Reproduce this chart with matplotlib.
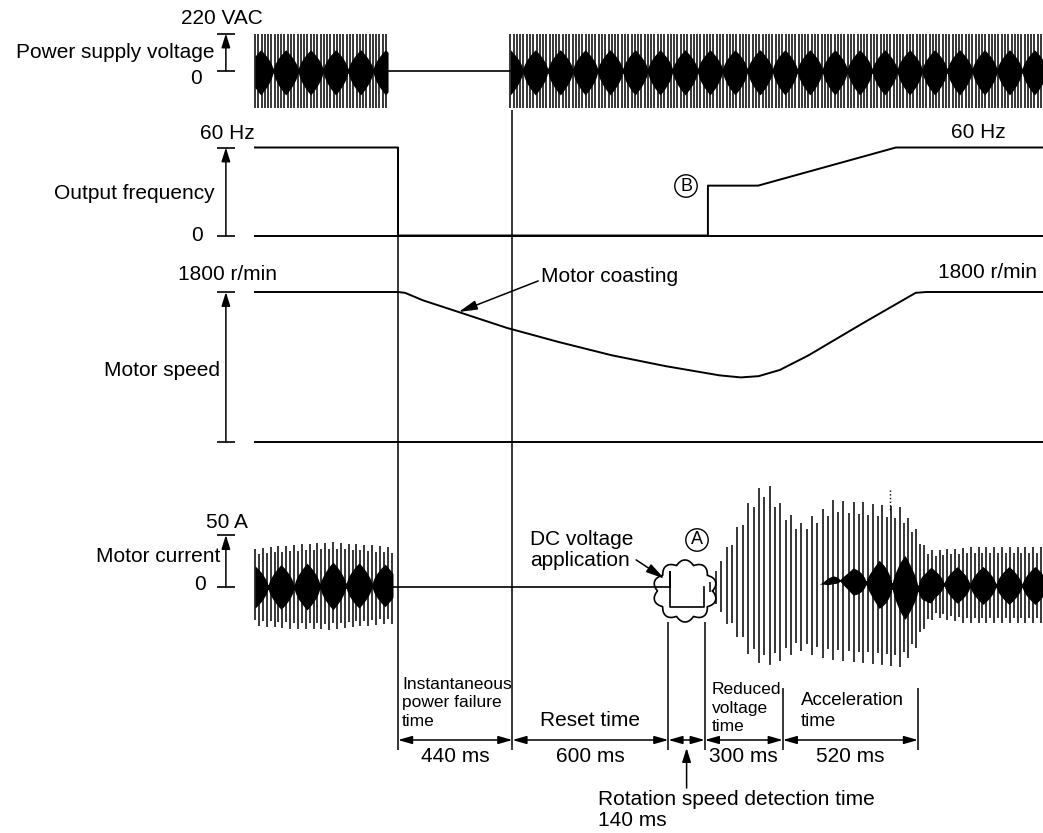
import numpy as np
import matplotlib.pyplot as plt

plt.rcParams['font.family'] = ['Liberation Sans', 'DejaVu Sans']

W, H = 1043, 833

# ---------------- data (time in ms, 0 = start of the power failure) ----------------
interval_ms = [440, 600, 140, 300, 520]
interval_values = ['440 ms', '600 ms', '', '300 ms', '520 ms']
bounds_ms = np.concatenate([[0], np.cumsum(interval_ms)])

supply_vac = 220
supply_off_ms = -38
supply_on_ms = 432

freq_t = [-550, 0, 0, 1192, 1192, 1385, 1915, 2481]
freq_hz = [60, 60, 0, 0, 34, 34, 60, 60]

speed_t = [-550, 0, 27, 96, 233, 418, 618, 823, 1030, 1236, 1318, 1387, 1469,
           1579, 1785, 1991, 2032, 2481]
speed_rpm = [1800, 1800, 1790, 1700, 1560, 1370, 1200, 1040, 910, 800, 775, 790,
             865, 1040, 1420, 1790, 1800, 1800]

# motor current envelopes (A)
cur_pre_t = [-550, -415, -262, -146, -19]
cur_pre_top = [37, 40, 43, 41, 38]
cur_pre_bot = [-37, -40, -41, -38, -35]

cur_post_t = [1180, 1208, 1250, 1288, 1354, 1415, 1481, 1546, 1612, 1673, 1804,
              1931, 1996, 2027, 2065, 2188, 2481]
cur_post_top = [0, 7, 33, 48, 85, 103, 77, 61, 71, 84, 81, 77, 55, 38, 35, 38, 38]
cur_post_bot = [0, -8, -32, -41, -67, -77, -70, -61, -67, -70, -73, -77, -58, -38,
                -29, -35, -35]

# DC voltage application (current between failure and restart)
dc_t = [-19, 1046, 1046, 1046, 1175, 1175]
dc_amp = [0, 0, 14, -19, -19, 0]

# ---------------- layout ----------------
x0_px = 398          # pixel column of t = 0
px_per_ms = 0.26
t_min = -x0_px / px_per_ms
t_max = (W - x0_px) / px_per_ms
trace_start = -550
marker_t = -662

fig = plt.figure(figsize=(W / 100, H / 100), dpi=100)


def channel(top, bottom, zero, px_per_unit):
    a = fig.add_axes([0, 1 - bottom / H, 1, (bottom - top) / H])
    a.set_xlim(t_min, t_max)
    a.set_ylim((zero - bottom) / px_per_unit, (zero - top) / px_per_unit)
    a.axis('off')
    a.patch.set_alpha(0)
    return a


ax_sup = channel(20, 125, 70.5, 37 / 220)
ax_frq = channel(125, 250, 235.5, 88 / 60)
ax_spd = channel(250, 460, 442, 150 / 1800)
ax_cur = channel(460, 700, 587, 52 / 50)

ov = fig.add_axes([0, 0, 1, 1])
ov.set_xlim(t_min, t_max)
ov.set_ylim(H, 0)
ov.axis('off')
ov.patch.set_alpha(0)

lab = fig.add_axes([0, 0, 1, 1])
lab.set_xlim(0, W)
lab.set_ylim(H, 0)
lab.axis('off')
lab.patch.set_alpha(0)

LW = 1.4
FS = 15


def scale_marker(a, full):
    a.hlines([0, full], marker_t - 34, marker_t + 34, color='k', lw=1.2)
    a.annotate('', xy=(marker_t, full), xytext=(marker_t, 0),
               arrowprops=dict(arrowstyle='-|>,head_length=0.7,head_width=0.22',
                               color='k', lw=1.1, mutation_scale=12,
                               shrinkA=0, shrinkB=0))


def stripes(lo, hi, spacing_knots, spacing_ms):
    out = []
    t = lo
    while t < hi:
        out.append(t)
        t += np.interp(t, spacing_knots, spacing_ms)
    return np.array(out)


def diamonds(tt, beat):
    # beat pattern seen as dark diamonds on the oscillogram
    tri = 1 - 2 * np.abs((tt / beat) % 1 - 0.5)
    return np.maximum(tri ** 0.6, 0.12)


# ---- power supply voltage ----
sup_stripe_ms = 12.6
sup_beat_ms = 96
for lo, hi in [(trace_start, supply_off_ms), (supply_on_ms, t_max)]:
    st = np.arange(lo, hi, sup_stripe_ms)
    ax_sup.vlines(st, -supply_vac, supply_vac, color='k', lw=1.1)
    tt = np.arange(lo, hi, 0.25)
    blob = 0.66 * supply_vac * diamonds(tt, sup_beat_ms)
    ax_sup.fill_between(tt, -blob, blob * 0.85, color='k', lw=0)
ax_sup.plot([supply_off_ms, supply_on_ms], [0, 0], color='k', lw=1.2)
scale_marker(ax_sup, supply_vac)

# ---- output frequency ----
ax_frq.plot([trace_start, t_max], [0, 0], color='k', lw=LW)
ax_frq.plot(freq_t, freq_hz, color='k', lw=LW)
scale_marker(ax_frq, 60)

# ---- motor speed ----
ax_spd.plot([trace_start, t_max], [0, 0], color='k', lw=LW)
ax_spd.plot(speed_t, speed_rpm, color='k', lw=LW)
scale_marker(ax_spd, 1800)

# ---- motor current ----
cur_beat_ms = 100


def current_trace(t_knots, top, bot, sp_knots, sp_ms, blob_knots, blob_frac):
    hi = min(t_knots[-1], t_max)
    st = stripes(t_knots[0], hi, sp_knots, sp_ms)
    alt = np.where(np.arange(len(st)) % 2 == 0, 1.0, 0.86)
    ax_cur.vlines(st, np.interp(st, t_knots, bot) * alt[::-1], np.interp(st, t_knots, top) * alt,
                  color='k', lw=1.1)
    tt = np.arange(t_knots[0], hi, 0.25)
    up = np.interp(tt, t_knots, top)
    dn = np.interp(tt, t_knots, bot)
    mid = (up + dn) / 2
    half = (up - dn) / 2
    frac = np.interp(tt, blob_knots, blob_frac)
    blob = frac * half * diamonds(tt, cur_beat_ms)
    ax_cur.fill_between(tt, mid - blob, mid + blob, color='k', lw=0)


current_trace(cur_pre_t, cur_pre_top, cur_pre_bot, [-550, 0], [15, 15],
              [-550, 0], [0.55, 0.55])
current_trace(cur_post_t, cur_post_top, cur_post_bot, [1180, 1700, 2000, 2481], [21, 20, 15, 15],
              [1180, 1620, 1850, 2000, 2481], [0, 0, 0.3, 0.5, 0.5])
ax_cur.plot(dc_t, dc_amp, color='k', lw=1.2)
scale_marker(ax_cur, 50)

# DC voltage "cloud"
cloud_t, cloud_row = 1104, 591
theta = np.linspace(0, 2 * np.pi, 500)
r = 0.86 + 0.14 * np.abs(np.sin(5 * theta))
ov.plot(cloud_t + 32 * r * np.cos(theta) / px_per_ms, cloud_row + 31 * r * np.sin(theta),
        color='k', lw=1.2)

# ---- timing lines and dimensions ----
bar_top = [147, 110, 622, 622, 688, 688]
ov.vlines(bounds_ms, bar_top, 750, color='k', lw=1.1)
for a, b, txt in zip(bounds_ms[:-1], bounds_ms[1:], interval_values):
    ov.annotate('', xy=(b, 740), xytext=(a, 740),
                arrowprops=dict(arrowstyle='<|-|>,head_length=0.7,head_width=0.2',
                                color='k', lw=1.1, mutation_scale=12, shrinkA=0, shrinkB=0))
    if txt:
        ov.text((a + b) / 2, 757, txt, ha='center', va='center', fontsize=FS)

ov.text(bounds_ms[0] + 15, 703, 'Instantaneous\npower failure\ntime', ha='left', va='center',
        fontsize=12.5, linespacing=1.3)
ov.text((bounds_ms[1] + bounds_ms[2]) / 2, 720, 'Reset time', ha='center', va='center', fontsize=FS)
ov.text(bounds_ms[3] + 28, 708, 'Reduced\nvoltage\ntime', ha='left', va='center',
        fontsize=12.5, linespacing=1.3)
ov.text(bounds_ms[4] + 69, 711, 'Acceleration\ntime', ha='left', va='center',
        fontsize=13.5, linespacing=1.3)

mid_detect = (bounds_ms[2] + bounds_ms[3]) / 2
ov.annotate('', xy=(mid_detect, 748), xytext=(mid_detect, 788),
            arrowprops=dict(arrowstyle='-|>,head_length=0.7,head_width=0.22',
                            color='k', lw=1.1, mutation_scale=12, shrinkA=0, shrinkB=0))
lab.text(598, 810, 'Rotation speed detection time\n140 ms', ha='left', va='center',
         fontsize=FS, linespacing=1.08)

ov.vlines(1892, 490, 512, color='k', lw=1, linestyles=':')

# ---- annotations ----
ax_spd.annotate('Motor coasting', xy=(233, 1560), xytext=(541, 277), textcoords=lab.transData,
                ha='left', va='center', fontsize=FS,
                arrowprops=dict(arrowstyle='-|>,head_length=0.8,head_width=0.2', color='k',
                                lw=1.1, mutation_scale=14, shrinkA=0, shrinkB=0, relpos=(0, 0.35)))
ax_cur.annotate('DC voltage\napplication', xy=(1025, 8), xytext=(530, 550), textcoords=lab.transData,
                ha='left', va='center', fontsize=FS, linespacing=1.15,
                arrowprops=dict(arrowstyle='-|>,head_length=0.8,head_width=0.2', color='k',
                                lw=1.1, mutation_scale=14, shrinkA=0, shrinkB=0, relpos=(1, 0.3)))

circ = dict(boxstyle='circle,pad=0.15', fc='white', ec='k', lw=1.0)
lab.text(697, 540, 'A', ha='center', va='center', fontsize=13, bbox=circ)
lab.text(686, 186, 'B', ha='center', va='center', fontsize=13, bbox=circ)

# ---- channel labels ----
lab.text(222, 18, '220 VAC', ha='center', va='center', fontsize=FS)
lab.text(214, 52, 'Power supply voltage', ha='right', va='center', fontsize=FS)
lab.text(196, 78, '0', ha='center', va='center', fontsize=FS)
lab.text(227, 133, '60 Hz', ha='center', va='center', fontsize=FS)
lab.text(215, 193, 'Output frequency', ha='right', va='center', fontsize=FS)
lab.text(197, 235, '0', ha='center', va='center', fontsize=FS)
lab.text(228, 275, '1800 r/min', ha='center', va='center', fontsize=FS)
lab.text(220, 370, 'Motor speed', ha='right', va='center', fontsize=FS)
lab.text(227, 522, '50 A', ha='center', va='center', fontsize=FS)
lab.text(220, 556, 'Motor current', ha='right', va='center', fontsize=FS)
lab.text(200, 585, '0', ha='center', va='center', fontsize=FS)
lab.text(978, 132, '60 Hz', ha='center', va='center', fontsize=FS)
lab.text(987, 272, '1800 r/min', ha='center', va='center', fontsize=FS)

fig.savefig('out.png', dpi=100)
